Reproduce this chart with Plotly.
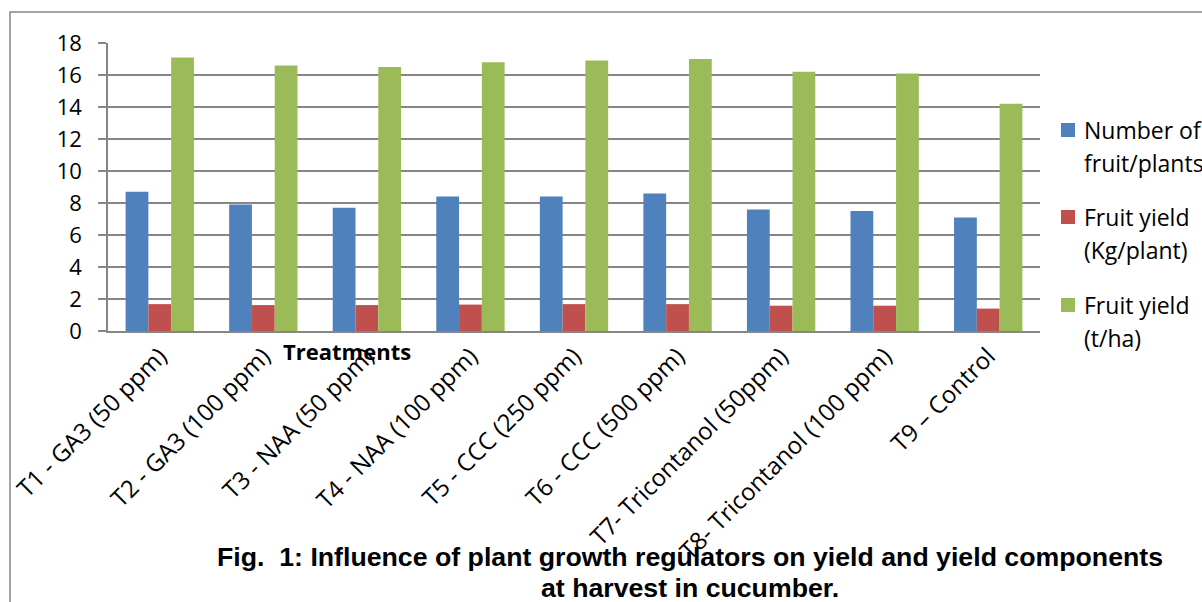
import plotly.graph_objects as go

categories = ["T1 - GA3 (50 ppm)", "T2 - GA3 (100 ppm)", "T3 - NAA (50 ppm)",
              "T4 - NAA (100 ppm)", "T5 - CCC (250 ppm)", "T6 - CCC (500 ppm)",
              "T7- Tricontanol (50ppm)", "T8- Tricontanol (100 ppm)", "T9 – Control"]
fruit_number = [8.7, 7.9, 7.7, 8.4, 8.4, 8.6, 7.6, 7.5, 7.1]
yield_kg_plant = [1.68, 1.62, 1.62, 1.65, 1.68, 1.68, 1.58, 1.58, 1.40]
yield_t_ha = [17.1, 16.6, 16.5, 16.8, 16.9, 17.0, 16.2, 16.1, 14.2]
series_names = [["Number of", "fruit/plants"], ["Fruit yield", "(Kg/plant)"], ["Fruit yield", "(t/ha)"]]
y_ticks = [0, 2, 4, 6, 8, 10, 12, 14, 16, 18]
colors = ["#4F81BD", "#C0504D", "#9BBB59"]
title_lines = ["Fig.  1: Influence of plant growth regulators on yield and yield components",
               "at harvest in cucumber."]
x_title = "Treatments"

W, H = 1202, 602
L, R, T, B = 108, 1040, 43, 331


def px(x):
    return (x - L) / (R - L)


def py(y):
    return (B - y) / (B - T)


GRID = "#868686"
FONT = "Open Sans"

fig = go.Figure()
for vals, name, col in zip([fruit_number, yield_kg_plant, yield_t_ha], series_names, colors):
    fig.add_trace(go.Bar(x=categories, y=vals, name=" ".join(name), marker_color=col,
                         marker_line_width=0, showlegend=False))

annotations = []
shapes = []
# manual legend
leg_y = [130, 217, 305]
for (l1, l2), col, yc in zip(series_names, colors, leg_y):
    shapes.append(dict(type="rect", xref="paper", yref="paper",
                       x0=px(1061), x1=px(1075), y0=py(yc + 7), y1=py(yc - 7),
                       fillcolor=col, line_width=0))
    annotations.append(dict(xref="paper", yref="paper", x=px(1082), y=py(yc), text=l1,
                            showarrow=False, xanchor="left", yanchor="middle",
                            font=dict(family=FONT, size=23, color="black")))
    annotations.append(dict(xref="paper", yref="paper", x=px(1082), y=py(yc + 33), text=l2,
                            showarrow=False, xanchor="left", yanchor="middle",
                            font=dict(family=FONT, size=23, color="black")))

annotations.append(dict(xref="paper", yref="paper", x=px(347), y=py(351), text="<b>" + x_title + "</b>",
                        showarrow=False, xanchor="center", yanchor="middle",
                        font=dict(family=FONT, size=22, color="black")))
annotations.append(dict(xref="paper", yref="paper", x=px(690), y=py(557), text="<b>" + title_lines[0] + "</b>",
                        showarrow=False, xanchor="center", yanchor="middle",
                        font=dict(family="Liberation Sans", size=26.7, color="black")))
annotations.append(dict(xref="paper", yref="paper", x=px(690), y=py(588), text="<b>" + title_lines[1] + "</b>",
                        showarrow=False, xanchor="center", yanchor="middle",
                        font=dict(family="Liberation Sans", size=26.7, color="black")))

shapes.append(dict(type="rect", xref="paper", yref="paper", layer="below",
                   x0=px(10), x1=px(1215), y0=py(615), y1=py(12),
                   line=dict(color=GRID, width=1.5), fillcolor="rgba(0,0,0,0)"))

fig.update_layout(
    width=W, height=H,
    margin=dict(l=L, r=W - R, t=T, b=H - B, autoexpand=False),
    paper_bgcolor="white", plot_bgcolor="white",
    barmode="group", bargap=0.34, bargroupgap=0,
    font=dict(family=FONT, color="black"),
    annotations=annotations, shapes=shapes,
    xaxis=dict(showline=True, linecolor=GRID, linewidth=1.5, tickangle=-45,
               tickfont=dict(family=FONT, size=24, color="black"), ticks="",
               automargin=False, showgrid=False),
    yaxis=dict(range=[0, 18], tickvals=y_ticks, showline=True, linecolor=GRID, linewidth=1.5,
               gridcolor=GRID, gridwidth=1.5, ticks="outside", ticklen=8, tickcolor=GRID,
               tickwidth=1.5, zeroline=False,
               tickfont=dict(family=FONT, size=22, color="black"), ticklabelstandoff=12,
               automargin=False),
)

fig.write_html("out.html")
